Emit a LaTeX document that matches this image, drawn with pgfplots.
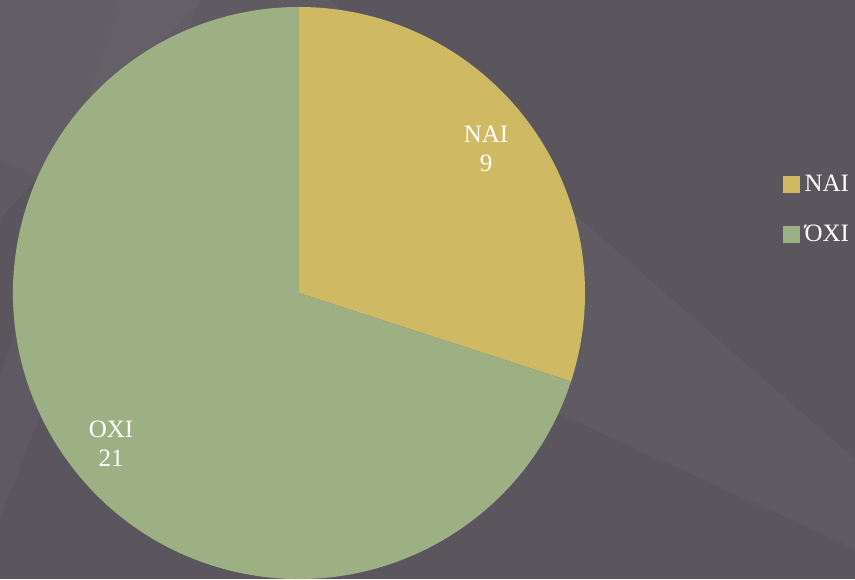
\documentclass[border=0pt]{standalone}
\usepackage{pgfplots}
\pgfplotsset{compat=1.18}
\usepackage{pgfplotstable}
\usepackage{fontspec}
\setmainfont{Liberation Serif}
\definecolor{bg}{HTML}{5B565E}
\definecolor{bgl}{HTML}{6C676F}
\definecolor{nai}{HTML}{CFBA63}
\definecolor{oxi}{HTML}{9CB084}
\pgfplotstableread{
label value
NAI 9
OXI 21
}\piedata
\begin{document}
\begin{tikzpicture}
\useasboundingbox (0,0) rectangle (855pt,579pt);
\fill[bg] (0,0) rectangle (855pt,579pt);
\fill[bgl, opacity=0.3] (0pt,420pt) -- (0pt,579pt) -- (330pt,579pt) -- (855pt,120pt) -- (855pt,30pt) -- cycle;
\fill[bgl, opacity=0.3] (0pt,360pt) -- (0pt,579pt) -- (200pt,579pt) -- cycle;
\fill[bgl, opacity=0.25] (0pt,60pt) -- (0pt,200pt) -- (120pt,579pt) -- (200pt,579pt) -- cycle;
\begin{axis}[at={(0,0)}, anchor=origin, scale only axis, width=855pt, height=579pt,
  xmin=0, xmax=855, ymin=0, ymax=579, hide axis, clip=false,
  legend style={at={(783pt,404pt)}, anchor=north west, draw=none, fill=none,
    text=white, font=\fontsize{25}{28}\selectfont, row sep=32pt,
    inner sep=0pt, legend cell align=left,
    nodes={inner xsep=5pt, inner ysep=0pt}},
  legend image code/.code={\fill[#1] (0pt,-8pt) rectangle (16pt,8pt);}]
\pgfplotstablegetelem{0}{value}\of\piedata \let\va\pgfplotsretval
\pgfplotstablegetelem{1}{value}\of\piedata \let\vb\pgfplotsretval
\pgfmathsetmacro{\tot}{\va+\vb}
\pgfmathsetmacro{\angA}{90-360*\va/\tot}
\fill[nai] (axis cs:299,286) -- ++(90:286pt) arc[start angle=90, end angle=\angA, radius=286pt] -- cycle;
\fill[oxi] (axis cs:299,286) -- ++(\angA:286pt) arc[start angle=\angA, end angle=-270, radius=286pt] -- cycle;
\addlegendimage{nai}
\addlegendentry{ΝΑΙ}
\addlegendimage{oxi}
\addlegendentry{ΌΧΙ}
\node[text=white, align=center, font=\fontsize{25}{29}\selectfont] at (axis cs:486,430) {ΝΑΙ\\\va};
\node[text=white, align=center, font=\fontsize{25}{29}\selectfont] at (axis cs:111,135) {ΟΧΙ\\\vb};
\end{axis}
\end{tikzpicture}
\end{document}
